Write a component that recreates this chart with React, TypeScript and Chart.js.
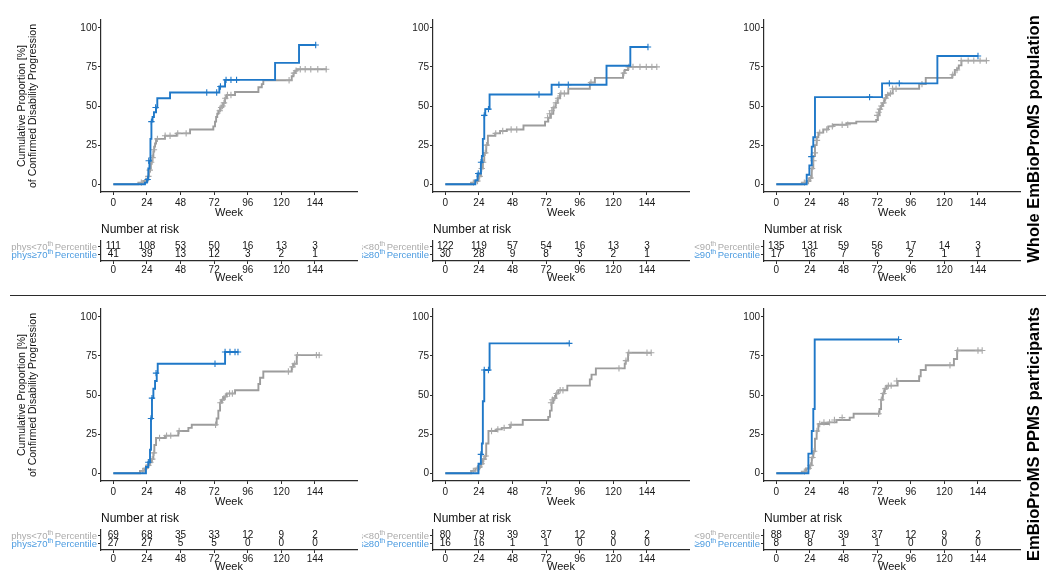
import React, { useEffect, useRef } from 'react';
import { Chart, registerables } from 'chart.js';
Chart.register(...registerables);

const FONT = '"Liberation Sans", Arial, Helvetica, sans-serif';
Chart.defaults.font.family = FONT;
Chart.defaults.color = '#1a1a1a';

const BLUE = '#1f78c8';
const GRAY = '#9c9c9c';
const GRAY_CENS = '#a8a8a8';
const GRAY_LABEL = '#ababab';
const BLUE_LABEL = '#4b9be0';
const AXIS = '#2b2b2b';

type Pt = [number, number];

// ---- axis ticks ----
const weekTicks = [0, 24, 48, 72, 96, 120, 144];
const pctTicks = [0, 25, 50, 75, 100];
const cutoffs = ['70', '80', '90'];
const rowTitles = ['Whole EmBioProMS population', 'EmBioProMS PPMS participants'];

// ---- Panel 1: whole population, 70th percentile ----
const blue1: Pt[] = [[0,0],[22.6,1],[24,3],[25,10],[25.8,15],[26.5,29],[27.2,40],[28,43],[29,46],[30.5,49],[31.4,55],[40.5,58.6],[75.7,62.5],[79.8,66.7],[115.5,77.6],[132.6,89],[144.8,89]];
const blueCens1: Pt[] = [[24.5,3],[25.3,15],[27.2,40],[30.2,49],[66.7,58.6],[73.8,58.6],[76.5,62.5],[80.5,66.7],[84,66.7],[88,66.7],[144.5,89]];
const gray1: Pt[] = [[0,0],[17.9,1],[21.4,2],[23.8,3],[24.6,5],[25.4,8],[26.2,10],[26.8,13],[27.4,15],[28,18],[28.6,21],[29.2,24],[29.8,26],[30.5,29],[36.9,31],[45.2,32.5],[54.8,35],[71.4,37],[72.6,40],[73.4,43],[74.2,45],[75,47],[76.2,49],[77.4,50],[78.6,52],[79.8,55],[81,57],[86.9,59],[103.6,62],[106,64],[107.1,66.5],[127.4,69],[128.6,71],[129.8,72.5],[131,73.5],[152.4,73.5]];
const grayCens1: Pt[] = [[20,1],[23,2],[25,5],[26,9],[27,14],[28,17],[29,22],[31.5,29],[37,31],[40.5,31],[46,32.5],[52,32.5],[76,47],[77,49],[78,50],[79,52],[80,55],[81.5,57],[84,57],[125.5,66.5],[129,71],[130.5,72.5],[133.5,73.5],[137,73.5],[141,73.5],[146,73.5],[152,73.5]];
const riskLow1 = [111, 108, 53, 50, 16, 13, 3];
const riskHigh1 = [41, 39, 13, 12, 3, 2, 1];

// ---- Panel 2: whole population, 80th percentile ----
const blue2: Pt[] = [[0,0],[21.4,2.5],[23,6.8],[25.4,14],[26.1,18],[26.8,29],[27.8,44],[28.5,48],[31.6,57.4],[75.9,63.6],[115.1,75.7],[132.1,87.7],[144.7,87.7]];
const blueCens2: Pt[] = [[23.5,6.8],[25.5,14],[27.8,44],[30.8,48],[66.9,57.4],[81.1,63.6],[87.8,63.6],[144.7,87.7]];
const gray2: Pt[] = [[0,0],[18.5,1],[21.4,2],[23.7,5],[25.4,10],[26.8,15],[27.8,20],[29.2,25],[30.4,31],[35.6,32.5],[39.1,34],[43.9,35],[55.8,37.5],[71.2,40],[73.5,42.5],[75.4,45],[77.1,49],[78.8,52],[80.2,55],[81.9,58],[87.8,61],[103.2,65],[106.8,68],[126.9,71],[128.1,73],[130.5,75],[151.1,75]];
const grayCens2: Pt[] = [[20,1],[23,2],[24.5,5],[26,10],[27,14],[28.5,20],[29.5,25],[36,32.5],[41,34],[47,35],[51,35],[73,42.5],[74.5,45],[76,47],[77.5,49],[79,52],[80.5,55],[82.5,58],[85,58],[104,65],[127.5,71],[131,75],[134,75],[139,75],[143.5,75],[147.5,75],[151,75]];
const riskLow2 = [122, 119, 57, 54, 16, 13, 3];
const riskHigh2 = [30, 28, 9, 8, 3, 2, 1];

// ---- Panel 3: whole population, 90th percentile ----
const blue3: Pt[] = [[0,0],[21.7,6],[23.6,12],[25.3,24],[26.4,30],[27.6,55.7],[75.5,64.5],[115,82],[144,82]];
const blueCens3: Pt[] = [[25,17.6],[66.6,55.7],[80.7,64.5],[87.8,64.5],[144,82]];
const gray3: Pt[] = [[0,0],[18.2,1],[21.7,2],[24.1,4],[25.3,10],[26.4,18],[27.6,25],[28.8,30],[30,33],[33.5,35],[37.1,37],[40.6,38],[50,39],[57.1,40],[71.3,41],[72.5,44],[73.7,48],[74.8,50],[76,52],[77.2,55],[78.4,57],[80.3,58],[83.1,61],[102,64],[106.7,68],[125.6,70],[127.5,73],[129.1,74],[130.3,76],[132.2,79],[150.4,79]];
const grayCens3: Pt[] = [[20,1],[23,2],[24.5,4],[25.5,10],[26.5,15],[27.5,20],[29,28],[31,33],[36,35],[40,37],[47,38],[51,38],[72,44],[73,46],[74,48],[75,50],[76.5,52],[78,55],[79.5,57],[81.5,58],[83,61],[85.5,61],[104,64],[126,70],[129,73],[132,79],[137,79],[141,79],[145.5,79],[150,79]];
const riskLow3 = [135, 131, 59, 56, 17, 14, 3];
const riskHigh3 = [17, 16, 7, 6, 2, 1, 1];

// ---- Panel 4: PPMS, 70th percentile ----
const blue4: Pt[] = [[0,0],[23.3,4],[25,7],[26.2,15],[26.9,35],[27.6,48],[28.6,54],[29.8,59],[31,64],[31.7,70],[79.8,77.5],[89.3,77.5]];
const blueCens4: Pt[] = [[25,7],[26.9,35],[27.6,48],[30.5,64],[72.6,70],[79.8,77.5],[83.3,77.5],[86.9,77.5],[89,77.5]];
const gray4: Pt[] = [[0,0],[19,1.5],[22.1,3],[23.8,5],[25.7,7],[27.4,9],[28.6,13],[29.3,18],[30.5,22.5],[36.9,24],[46.4,27],[53.6,29],[56,31],[73.8,35],[75,40],[76.2,45],[77.4,47],[79,49],[81,51],[86.9,53],[103.6,57],[104.8,61],[107.1,65],[127.4,68],[128.6,70],[131,75.5],[147.6,75.5]];
const grayCens4: Pt[] = [[21,1.5],[23,3],[25,5],[26.5,7],[27.8,9],[29,13],[33,22.5],[38,24],[41,24],[47,27],[73,31],[76.5,45],[78,47],[80,49],[83,51],[85,51],[125,65],[128,68],[129.5,70],[131.5,75.5],[145,75.5],[147,75.5]];
const riskLow4 = [69, 68, 35, 33, 12, 9, 2];
const riskHigh4 = [27, 27, 5, 5, 0, 0, 0];

// ---- Panel 5: PPMS, 80th percentile ----
const blue5: Pt[] = [[0,0],[23.7,6],[25.4,12],[26.1,19],[26.8,46],[27.8,66],[31.6,83],[88.5,83]];
const blueCens5: Pt[] = [[25.4,12],[27.8,66],[30.8,66],[88.5,83]];
const gray5: Pt[] = [[0,0],[18.5,1.5],[21.4,3],[23.7,4],[25.4,6],[26.8,9],[28.5,11],[29.2,19],[30.8,27],[36.8,28],[40.3,29],[46.3,31],[55.3,34],[73.5,36],[74.7,40],[75.9,45],[77.1,48],[79,51],[80.7,53],[87.1,56],[103.2,60],[104.4,63],[107.5,67],[128.1,70],[128.8,72],[130.5,77],[147.1,77]];
const grayCens5: Pt[] = [[20,1.5],[23,3],[24.5,4],[26,6],[27.5,9],[28.8,11],[33,27],[37.5,28],[42,29],[47,31],[75.5,45],[76.5,47],[78,48],[79.5,51],[82,53],[84,53],[124,67],[129,72],[131,77],[144,77],[147,77]];
const riskLow5 = [80, 79, 39, 37, 12, 9, 2];
const riskHigh5 = [16, 16, 1, 1, 0, 0, 0];

// ---- Panel 6: PPMS, 90th percentile ----
const blue6: Pt[] = [[0,0],[22.9,12.5],[25.3,27],[26.4,41],[27.4,85.5],[87.3,85.5]];
const blueCens6: Pt[] = [[87.3,85.5]];
const gray6: Pt[] = [[0,0],[18.2,1],[21.2,3],[24.1,5],[25.3,10],[26.4,14],[27.6,22],[28.8,27],[30,31.5],[37.1,32.5],[43,34],[52.4,35.5],[55.2,38],[73.7,41],[74.8,47],[76,51],[77.2,54],[78.8,56],[86.6,59],[102,62],[103.1,66],[106.7,69],[126.8,73],[129.1,78.5],[146.8,78.5]];
const grayCens6: Pt[] = [[20,1],[23,3],[24.5,5],[25.8,10],[27,14],[29,27],[31,31.5],[34,32.5],[38,32.5],[41.5,34],[47,35.5],[73,38],[75,47],[76.5,51],[77.8,54],[80,56],[82,56],[86,59],[124,69],[129.5,78.5],[144,78.5],[147,78.5]];
const riskLow6 = [88, 87, 39, 37, 12, 9, 2];
const riskHigh6 = [8, 8, 1, 1, 0, 0, 0];

const panels = [
  { blue: blue1, blueCens: blueCens1, gray: gray1, grayCens: grayCens1, low: riskLow1, high: riskHigh1 },
  { blue: blue2, blueCens: blueCens2, gray: gray2, grayCens: grayCens2, low: riskLow2, high: riskHigh2 },
  { blue: blue3, blueCens: blueCens3, gray: gray3, grayCens: grayCens3, low: riskLow3, high: riskHigh3 },
  { blue: blue4, blueCens: blueCens4, gray: gray4, grayCens: grayCens4, low: riskLow4, high: riskHigh4 },
  { blue: blue5, blueCens: blueCens5, gray: gray5, grayCens: grayCens5, low: riskLow5, high: riskHigh5 },
  { blue: blue6, blueCens: blueCens6, gray: gray6, grayCens: grayCens6, low: riskLow6, high: riskHigh6 },
];

// ---- layout ----
const COL_AREA_LEFT = [101, 433, 764];
const COL_CLIP_LEFT = [0, 362, 694];
const ROW_KM_TOP = [20, 309];
const ROW_RISK_TOP = [241, 530];
const AREA_W = 256;
const KM_H = 172;
const RISK_H = 20;
const X_MIN = -8.8;
const X_MAX = 174;

const toXY = (a: Pt[]) => a.map(([x, y]) => ({ x, y }));

function xAxis(height: number, tickPad: number) {
  return {
    type: 'linear' as const,
    min: X_MIN,
    max: X_MAX,
    afterBuildTicks: (s: any) => { s.ticks = weekTicks.map((v) => ({ value: v })); },
    afterFit: (s: any) => { s.height = height; },
    grid: { display: true, drawOnChartArea: false, drawTicks: true, tickLength: 3, color: AXIS, tickColor: AXIS, tickWidth: 1 },
    border: { display: true, color: AXIS, width: 1.2 },
    ticks: { font: { size: 10 }, color: '#1a1a1a', padding: tickPad, maxRotation: 0, autoSkip: false },
    title: { display: true, text: 'Week', font: { size: 11 }, color: '#111', padding: 0 },
  };
}

function KMChart({ p, col, row }: { p: any; col: number; row: number }) {
  const ref = useRef<HTMLCanvasElement>(null);
  const yw = col === 0 ? 96 : 40;
  const left = COL_AREA_LEFT[col] - yw;
  const padTop = 8;
  const xh = 28;
  const top = ROW_KM_TOP[row] - padTop;
  const W = yw + AREA_W + 6;
  const H = padTop + KM_H + xh;
  useEffect(() => {
    const chart = new Chart(ref.current!, {
      type: 'line',
      data: {
        datasets: [
          { data: toXY(p.blueCens), showLine: false, pointStyle: 'cross', pointRadius: 3.2, pointBorderWidth: 1.1, borderColor: BLUE, backgroundColor: BLUE },
          { data: toXY(p.blue), stepped: 'before', borderColor: BLUE, borderWidth: 1.9, pointRadius: 0, fill: false },
          { data: toXY(p.grayCens), showLine: false, pointStyle: 'cross', pointRadius: 3.2, pointBorderWidth: 1.1, borderColor: GRAY_CENS, backgroundColor: GRAY_CENS },
          { data: toXY(p.gray), stepped: 'before', borderColor: GRAY, borderWidth: 1.9, pointRadius: 0, fill: false },
        ] as any,
      },
      options: {
        animation: false,
        responsive: false,
        events: [],
        layout: { padding: { top: padTop, right: 6, left: 0, bottom: 0 } },
        plugins: { legend: { display: false }, tooltip: { enabled: false } },
        scales: {
          x: xAxis(xh, 2) as any,
          y: {
            type: 'linear',
            min: -5,
            max: 105,
            afterBuildTicks: (s: any) => { s.ticks = pctTicks.map((v) => ({ value: v })); },
            afterFit: (s: any) => { s.width = yw; },
            grid: { display: true, drawOnChartArea: false, drawTicks: true, tickLength: 3, color: AXIS, tickColor: AXIS, tickWidth: 1 },
            border: { display: true, color: AXIS, width: 1.2 },
            ticks: { font: { size: 10 }, color: '#1a1a1a', padding: 1 },
            title: col === 0
              ? { display: true, text: ['Cumulative Proportion [%]', 'of Confirmed Disability Progression'], font: { size: 10.5, lineHeight: 1.1 }, color: '#111', padding: { top: 11, bottom: 0 } }
              : { display: false },
          } as any,
        },
      },
    });
    return () => chart.destroy();
  }, []);
  return <canvas ref={ref} width={W} height={H} style={{ position: 'absolute', left, top, width: W, height: H }} />;
}

function drawRowLabel(ctx: CanvasRenderingContext2D, xRight: number, yMid: number, main1: string, sup: string, main2: string, color: string) {
  const mainFont = `9.5px ${FONT}`;
  const supFont = `7px ${FONT}`;
  ctx.font = mainFont;
  const w1 = ctx.measureText(main1).width;
  const w3 = ctx.measureText(main2).width;
  ctx.font = supFont;
  const w2 = ctx.measureText(sup).width;
  const gap = 1.5;
  const total = w1 + w2 + gap + w3;
  const x0 = xRight - total;
  const base = yMid + 3.4;
  ctx.fillStyle = color;
  ctx.textAlign = 'left';
  ctx.textBaseline = 'alphabetic';
  ctx.font = mainFont;
  ctx.fillText(main1, x0, base);
  ctx.font = supFont;
  ctx.fillText(sup, x0 + w1, base - 4);
  ctx.font = mainFont;
  ctx.fillText(main2, x0 + w1 + w2 + gap, base);
}

function RiskChart({ p, col, row }: { p: any; col: number; row: number }) {
  const ref = useRef<HTMLCanvasElement>(null);
  const left = COL_CLIP_LEFT[col];
  const yw = COL_AREA_LEFT[col] - left;
  const padTop = 26;
  const xh = 24;
  const top = ROW_RISK_TOP[row] - padTop;
  const W = yw + AREA_W + 6;
  const H = padTop + RISK_H + xh;
  const cut = cutoffs[col];
  useEffect(() => {
    const textPlugin = {
      id: 'riskText',
      afterDatasetsDraw(chart: any) {
        const ctx = chart.ctx as CanvasRenderingContext2D;
        const area = chart.chartArea;
        ctx.save();
        ctx.fillStyle = '#111';
        ctx.font = `12px ${FONT}`;
        ctx.textAlign = 'left';
        ctx.textBaseline = 'middle';
        ctx.fillText('Number at risk', area.left, area.top - 11);
        chart.data.datasets.forEach((ds: any, i: number) => {
          const meta = chart.getDatasetMeta(i);
          ctx.font = `10px ${FONT}`;
          ctx.fillStyle = '#111';
          ctx.textAlign = 'center';
          ctx.textBaseline = 'middle';
          meta.data.forEach((el: any, j: number) => {
            ctx.fillText(String(ds.counts[j]), el.x, el.y);
          });
          const y0 = meta.data[0].y;
          drawRowLabel(ctx, area.left - 4, y0, ds.labelMain, 'th', 'Percentile', ds.labelColor);
        });
        ctx.restore();
      },
    };
    const chart = new Chart(ref.current!, {
      type: 'scatter',
      data: {
        datasets: [
          { data: weekTicks.map((w) => ({ x: w, y: 2 })), counts: p.low, labelMain: 'phys<' + cut, labelColor: GRAY_LABEL, pointRadius: 0 },
          { data: weekTicks.map((w) => ({ x: w, y: 1 })), counts: p.high, labelMain: 'phys\u2265' + cut, labelColor: BLUE_LABEL, pointRadius: 0 },
        ] as any,
      },
      options: {
        animation: false,
        responsive: false,
        events: [],
        layout: { padding: { top: padTop, right: 6, left: 0, bottom: 0 } },
        plugins: { legend: { display: false }, tooltip: { enabled: false } },
        scales: {
          x: xAxis(xh, 0) as any,
          y: {
            type: 'linear',
            min: 0.2,
            max: 2.7,
            afterBuildTicks: (s: any) => { s.ticks = [{ value: 1 }, { value: 2 }]; },
            afterFit: (s: any) => { s.width = yw; },
            grid: { display: true, drawOnChartArea: false, drawTicks: true, tickLength: 3, color: AXIS, tickColor: AXIS, tickWidth: 1 },
            border: { display: true, color: AXIS, width: 1.2 },
            ticks: { display: false },
          } as any,
        },
      },
      plugins: [textPlugin],
    });
    return () => chart.destroy();
  }, []);
  return <canvas ref={ref} width={W} height={H} style={{ position: 'absolute', left, top, width: W, height: H }} />;
}

export default function App() {
  return (
    <div style={{ position: 'absolute', left: 0, top: 0, width: 1050, height: 584, background: '#fff', overflow: 'hidden', fontFamily: FONT }}>
      {panels.map((p, i) => (
        <React.Fragment key={i}>
          <KMChart p={p} col={i % 3} row={Math.floor(i / 3)} />
          <RiskChart p={p} col={i % 3} row={Math.floor(i / 3)} />
        </React.Fragment>
      ))}
      <div style={{ position: 'absolute', left: 10, top: 295, width: 1036, height: 1.3, background: '#2b2b2b' }} />
      {rowTitles.map((t, i) => (
        <div
          key={t}
          style={{
            position: 'absolute',
            left: 1033,
            top: i === 0 ? 138.5 : 433.5,
            transform: 'translate(-50%, -50%) rotate(-90deg)',
            whiteSpace: 'nowrap',
            fontWeight: 'bold',
            fontSize: 16.5,
            color: '#000',
            lineHeight: 1,
          }}
        >
          {t}
        </div>
      ))}
    </div>
  );
}
